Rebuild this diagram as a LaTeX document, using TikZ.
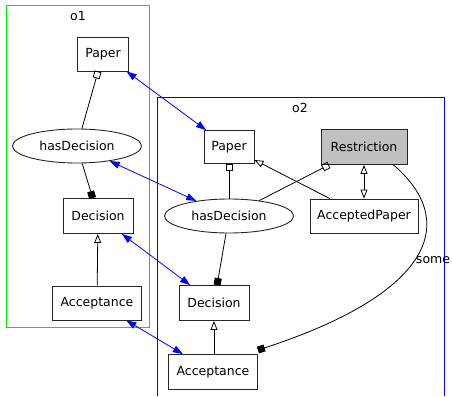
\documentclass[tikz,border=0pt]{standalone}
\usepackage{fontspec}
\setmainfont{DejaVu Sans}
\usetikzlibrary{shapes.geometric,arrows.meta}
\definecolor{rgray}{RGB}{192,192,192}
\definecolor{cgreen}{RGB}{0,235,0}
\tikzset{
  every node/.style={font=\fontsize{12.5}{14}\selectfont, inner sep=0pt},
  cls/.style={draw=black!85, line width=0.9pt, rectangle, minimum height=34pt},
  prop/.style={draw=black!85, line width=0.9pt, ellipse, minimum width=129pt, minimum height=34pt},
  edge/.style={draw=black, line width=0.8pt},
  dom/.style={edge, -{Square[open,length=7pt,width=7pt]}},
  rng/.style={edge, -{Square[length=7pt,width=7pt]}},
  isa/.style={edge, -{Triangle[open,length=9pt,width=7pt]}},
  isaboth/.style={edge, {Triangle[open,length=9pt,width=7pt]}-{Triangle[open,length=9pt,width=7pt]}},
  mapping/.style={draw=blue, line width=0.8pt, {Triangle[length=10pt,width=7pt]}-{Triangle[length=10pt,width=7pt]}},
}
\begin{document}
\begin{tikzpicture}[x=1pt,y=-1pt]
\useasboundingbox (0,0) rectangle (452,396);
% clusters
\draw[cgreen, line width=1pt] (6.5,5.5) rectangle (149.5,327.5);
\node (o1lab) at (78,16) {o1};
\draw[blue, line width=1pt] (157.5,396) -- (157.5,97.5) -- (444.5,97.5) -- (444.5,396);
\node (o2lab) at (300,108) {o2};
% o1 nodes
\node[cls, minimum width=51pt] (p1) at (103,54) {Paper};
\node[prop] (h1) at (77,146) {hasDecision};
\node[cls, minimum width=70pt, minimum height=35pt] (d1) at (98,216) {Decision};
\node[cls, minimum width=89pt] (a1) at (97,303) {Acceptance};
% o2 nodes
\node[cls, minimum width=50pt, minimum height=33pt] (p2) at (229,147) {Paper};
\node[cls, fill=rgray, minimum width=86pt, minimum height=35pt] (r2) at (364,147) {Restriction};
\node[prop] (h2) at (229,216) {hasDecision};
\node[cls, minimum width=108pt] (ap2) at (364,216) {AcceptedPaper};
\node[cls, minimum width=70pt, minimum height=35pt] (d2) at (214,303) {Decision};
\node[cls, minimum width=89pt, minimum height=35pt] (a2) at (213,372) {Acceptance};
% o1 edges
\draw[dom] (h1) -- (p1);
\draw[rng] (h1) -- (d1);
\draw[isa] (a1) -- (d1);
% o2 edges
\draw[dom] (h2) -- (p2);
\draw[rng] (h2) -- (d2);
\draw[isa] (d2 |- a2.north) -- (d2);
\draw[dom] (h2) -- (r2);
\draw[isa] (ap2) -- (p2);
\draw[isaboth] (r2) -- (ap2);
\coordinate (rs) at ([xshift=-14pt]r2.south east);
\coordinate (ae) at ([yshift=4pt]a2.north east);
\draw[rng] (rs) .. controls (458,220) and (436,292) .. (ae);
\node (some) at (433,260) {some};
% mappings
\draw[mapping] (p1) -- (p2);
\draw[mapping] (h1) -- (h2);
\draw[mapping] (d1) -- (d2);
\draw[mapping] (a1) -- (a2);
\end{tikzpicture}
\end{document}
